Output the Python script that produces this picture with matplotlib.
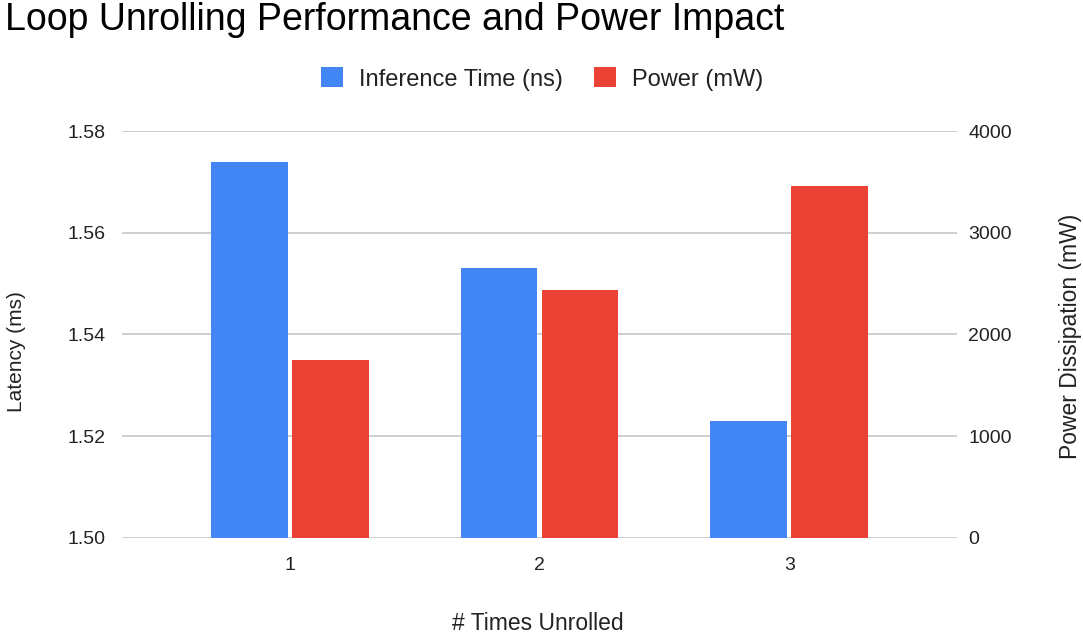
import matplotlib
matplotlib.use("Agg")
import matplotlib.pyplot as plt
from matplotlib.patches import Patch
import numpy as np

plt.rcParams['font.family'] = ['Liberation Sans', 'DejaVu Sans']

# Data
unroll_counts = ["1", "2", "3"]
inference_time = [1.574, 1.553, 1.523]      # latency, left axis
power_mw = [1750, 2440, 3460]               # power, right axis

left_ticks = [1.50, 1.52, 1.54, 1.56, 1.58]
right_ticks = [0, 1000, 2000, 3000, 4000]

BLUE = "#4285F4"
RED = "#EA4335"
GRID = "#CCCCCC"
TEXT = "#222222"

W, H = 1083, 634
fig = plt.figure(figsize=(W / 100, H / 100), dpi=100)
ax = fig.add_axes([122 / W, 1 - 537.7 / H, (957 - 122) / W, (537.7 - 131) / H])
ax2 = ax.twinx()

x = np.arange(1, len(unroll_counts) + 1)
bw = 0.307
gap = 0.0176

ax.bar(x - gap / 2 - bw / 2, np.array(inference_time) - left_ticks[0], bw,
       bottom=left_ticks[0], color=BLUE, zorder=3, linewidth=0)
ax2.bar(x + gap / 2 + bw / 2, power_mw, bw, color=RED, zorder=3, linewidth=0)

ax.set_xlim(0.328, 3.672)
ax.set_ylim(left_ticks[0], left_ticks[-1])
ax2.set_ylim(right_ticks[0], right_ticks[-1])

ax.set_yticks(left_ticks)
ax.set_yticklabels([f"{v:.2f}" for v in left_ticks])
ax2.set_yticks(right_ticks)
ax2.set_yticklabels([str(v) for v in right_ticks])
ax.set_xticks(x)
ax.set_xticklabels(unroll_counts)

ax.grid(axis="y", color=GRID, linewidth=1.3, zorder=0)
ax.set_axisbelow(True)
for a in (ax, ax2):
    for s in a.spines.values():
        s.set_visible(False)
    a.tick_params(length=0, labelsize=14, colors=TEXT)
ax.tick_params(axis="y", pad=12)
ax2.tick_params(axis="y", pad=8)
ax.tick_params(axis="x", pad=14)

fig.text(17 / W, 1 - 352 / H, "Latency (ms)", rotation=90, ha="center", va="center",
         fontsize=15, color=TEXT)
fig.text(1071 / W, 1 - 336 / H, "Power Dissipation (mW)", rotation=90, ha="center",
         va="center", fontsize=16.5, color=TEXT)
fig.text(538 / W, 1 - 623 / H, "# Times Unrolled", ha="center", va="center",
         fontsize=16.5, color=TEXT)

fig.text(5 / W, 1 - 20 / H, "Loop Unrolling Performance and Power Impact",
         ha="left", va="center", fontsize=27, color="black")

handles = [Patch(facecolor=BLUE, edgecolor="none"), Patch(facecolor=RED, edgecolor="none")]
fig.legend(handles, ["Inference Time (ns)", "Power (mW)"], loc="center",
           bbox_to_anchor=(542 / W, 1 - 79 / H), ncol=2, frameon=False,
           fontsize=17, handlelength=0.93, handleheight=0.93, handletextpad=0.68,
           columnspacing=1.3, labelcolor=TEXT)

fig.savefig("out.png", dpi=100)
